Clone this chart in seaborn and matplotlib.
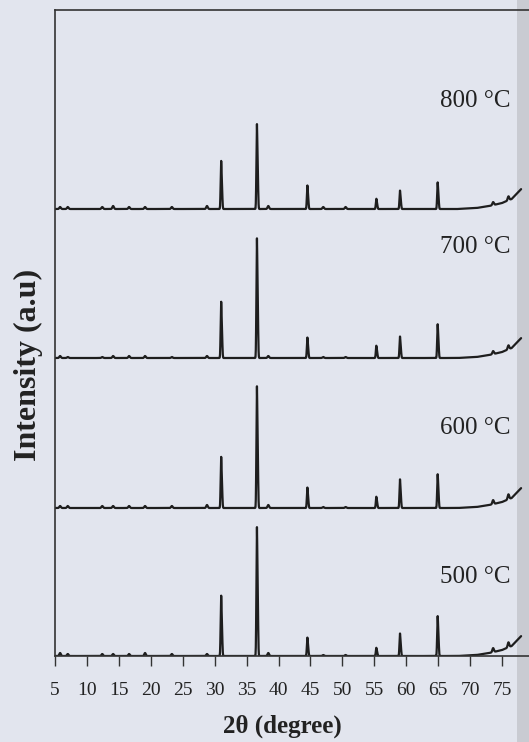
import numpy as np
import pandas as pd
import matplotlib
matplotlib.use("Agg")
import matplotlib.pyplot as plt
import seaborn as sns
from matplotlib.patches import Rectangle

# ---------------- data ----------------
temperatures = ["500 °C", "600 °C", "700 °C", "800 °C"]
stack_offsets = [0, 148, 298, 447]          # vertical offset of each pattern (a.u.)
label_levels = [79, 228, 409, 555]          # height of each temperature label (a.u.)

peak_positions = [31.0, 36.6, 44.5, 55.3, 59.0, 64.9]   # 2θ (degree)
peak_heights_500 = [59, 126, 18, 8, 22, 39]
peak_heights_600 = [50, 119, 20, 11, 28, 33]
peak_heights_700 = [55, 117, 20, 12, 21, 33]
peak_heights_800 = [47, 83, 23, 10, 18, 26]

minor_positions = [5.8, 7.0, 12.4, 14.1, 16.6, 19.1, 23.3, 28.8, 38.4, 47.0, 50.5, 73.6, 76.0]
minor_heights_500 = [3, 2, 2, 2, 2, 3, 2, 2, 3, 1, 1, 4, 5]
minor_heights_600 = [2, 2, 2, 2, 2, 2, 2, 3, 3, 1, 1, 4, 5]
minor_heights_700 = [2, 1, 1, 2, 2, 2, 1, 2, 2, 1, 1, 3, 4]
minor_heights_800 = [2, 2, 2, 3, 2, 2, 2, 3, 3, 2, 2, 3, 4]

# upward bend of every pattern at the high-angle end
drift_theta = [5, 68, 71, 73, 75, 76.5, 78]
drift_height = [0, 0, 1, 3, 6, 10, 20]

x_ticks = [5, 10, 15, 20, 25, 30, 35, 40, 45, 50, 55, 60, 65, 70, 75]

# ---------------- build the long-form table ----------------
two_theta = np.arange(5.0, 78.0, 0.02)
drift = np.interp(two_theta, drift_theta, drift_height)

major = [peak_heights_500, peak_heights_600, peak_heights_700, peak_heights_800]
minor = [minor_heights_500, minor_heights_600, minor_heights_700, minor_heights_800]


def profile(center, width):
    return np.exp(-0.5 * ((two_theta - center) / width) ** 2)


frames = []
for temp, off, hmaj, hmin in zip(temperatures, stack_offsets, major, minor):
    y = off + drift.copy()
    for p, h in zip(peak_positions, hmaj):
        # K-alpha1 / K-alpha2 doublet, which thickens the lower half of each line
        y += h * (profile(p, 0.07) + 0.45 * profile(p + 0.14, 0.07)) / 1.04
    for p, h in zip(minor_positions, hmin):
        y += h * profile(p, 0.12)
    frames.append(pd.DataFrame({"two_theta": two_theta, "intensity": y, "temperature": temp}))
df = pd.concat(frames, ignore_index=True)

# ---------------- drawing ----------------
sns.set_theme(style="ticks")
plt.rcParams["font.family"] = ["Liberation Serif", "DejaVu Serif"]

bg = "#e2e5ee"
ink = "#1e1e1e"
W, H = 529, 742
fig = plt.figure(figsize=(W / 100, H / 100), dpi=100, facecolor=bg)
ax = fig.add_axes([55 / W, 86 / H, 479 / W, 646 / H])
ax.set_facecolor("none")

# page-edge shadow at the right border
fig.add_artist(Rectangle((517 / W, 0), 12 / W, 1, transform=fig.transFigure,
                         facecolor="#c9cbd2", edgecolor="none", zorder=-1))

sns.lineplot(data=df, x="two_theta", y="intensity", hue="temperature", units="temperature",
             estimator=None, palette={t: ink for t in temperatures}, linewidth=1.6,
             legend=False, ax=ax, sort=False)

ax.set_xlim(5, 80)
ax.set_ylim(0, 646)
ax.set_xticks(x_ticks)
ax.set_xticklabels([str(t) for t in x_ticks])
ax.set_yticks([])

for side in ["left", "top", "bottom"]:
    ax.spines[side].set_color("#333333")
    ax.spines[side].set_linewidth(1.2)
ax.spines["right"].set_visible(False)

ax.tick_params(axis="x", direction="out", length=7, width=1.0, pad=12,
               labelsize=14, colors="#333333", labelcolor="#222222")

ax.set_xlabel("2θ (degree)", fontsize=18, fontweight="bold", color="#222222")
ax.xaxis.set_label_coords((282 - 55) / 479, (656 - 715) / 646)
ax.set_ylabel("Intensity (a.u)", fontsize=23, fontweight="bold", color="#222222", va="center")
ax.yaxis.set_label_coords((28 - 55) / 479, (656 - 365) / 646)

for temp, ly in zip(temperatures, label_levels):
    ax.text(76.3, ly, temp, ha="right", va="center", fontsize=18, color="#222222")

fig.savefig("out.png", dpi=100, facecolor=bg)
